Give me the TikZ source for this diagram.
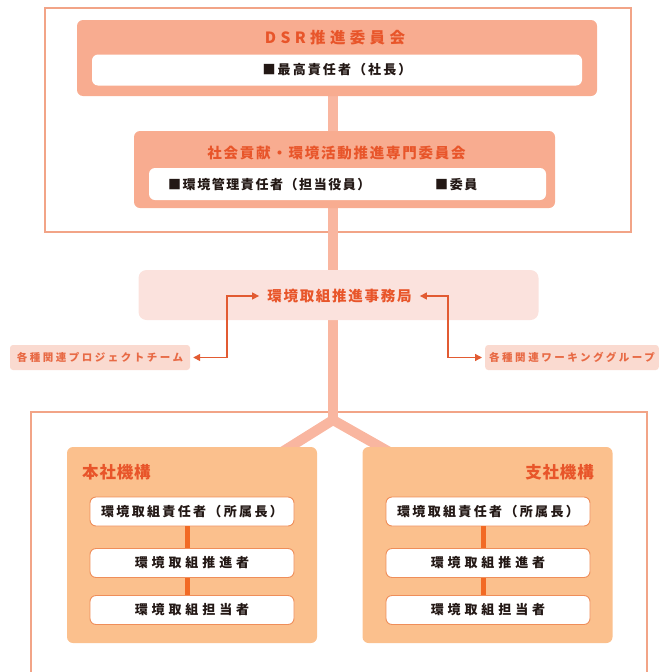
\documentclass[tikz,border=0pt]{standalone}
\usepackage{fontspec}
\newfontfamily\jp{Noto Sans CJK JP}
\usetikzlibrary{arrows.meta,calc,backgrounds}
\definecolor{frameline}{HTML}{F2A487}
\definecolor{salmon}{HTML}{F8AC90}
\definecolor{trunkc}{HTML}{F9B6A0}
\definecolor{titlec}{HTML}{E8552A}
\definecolor{officec}{HTML}{FBE2DD}
\definecolor{sidec}{HTML}{FADAD0}
\definecolor{sidetext}{HTML}{E86A45}
\definecolor{arrowc}{HTML}{E25B32}
\definecolor{unitc}{HTML}{FBC08D}
\definecolor{unitline}{HTML}{EF8E5A}
\definecolor{linkc}{HTML}{F26A24}
\definecolor{inkc}{HTML}{231815}
\begin{document}
\begin{tikzpicture}[x=1pt,y=-1pt,
    panel/.style={fill=salmon,rounded corners=6pt,inner sep=0pt},
    whitebar/.style={fill=white,rounded corners=6pt,inner sep=0pt,text=inkc,
      font={\jp\bfseries\fontsize{13}{15}\selectfont\addfontfeature{LetterSpace=16}}},
    title/.style={text=titlec,inner sep=0pt,
      font={\jp\bfseries\fontsize{14.5}{16}\selectfont\addfontfeature{LetterSpace=12}}},
    boxtext/.style={text=inkc,inner sep=0pt,
      font={\jp\bfseries\fontsize{13}{15}\selectfont\addfontfeature{LetterSpace=12}}},
    side/.style={fill=sidec,rounded corners=3pt,minimum height=25pt,inner xsep=4pt,text=sidetext,
      font={\jp\bfseries\fontsize{10.5}{12}\selectfont\addfontfeature{LetterSpace=24}}},
    unit/.style={fill=unitc,rounded corners=6pt,minimum width=250pt,minimum height=196pt},
    unittitle/.style={text=titlec,inner sep=0pt,
      font={\jp\bfseries\fontsize{16.5}{18}\selectfont\addfontfeature{LetterSpace=5}}},
    role/.style={draw=unitline,line width=0.9pt,fill=white,rounded corners=6pt,
      minimum width=204pt,minimum height=29pt,inner sep=0pt,text=inkc,
      font={\jp\bfseries\fontsize{13}{15}\selectfont}},
    trunk/.style={trunkc,line width=10pt},
    link/.style={arrowc,line width=1.3pt,
      {Triangle[length=7pt,width=7pt]}-{Triangle[length=7pt,width=7pt]},
      shorten <=3pt,shorten >=3pt}]
  \useasboundingbox (0,0) rectangle (659,672);
  \node[panel,minimum width=520pt,minimum height=76pt] (dsr) at (337,58) {};
  \node[title,font={\jp\bfseries\fontsize{15.5}{17}\selectfont\addfontfeature{LetterSpace=28}}] (dsrtitle) at (335,38) {DSR推進委員会};
  \node[whitebar,minimum width=490pt,minimum height=31pt] (ceo) at (337,70) {■最高責任者（社長）};
  \node[panel,minimum width=421pt,minimum height=77pt] (cmte) at (344.5,169.5) {};
  \node[title] (cmtetitle) at (336.5,153) {社会貢献・環境活動推進専門委員会};
  \node[whitebar,minimum width=397pt,minimum height=32pt] (cmtebar) at (347.5,184) {};
  \node[boxtext,anchor=west] (mgr) at (168,185) {■環境管理責任者（担当役員）};
  \node[boxtext,anchor=west] (member) at (435,185) {■委員};
  \node[fill=officec,rounded corners=8pt,minimum width=400pt,minimum height=50pt] (office) at (338.5,295) {};
  \node[title,inner sep=5pt] (officelbl) at (339.5,296) {環境取組推進事務局};
  \node[side,minimum width=180pt] (team) at (100,357.5) {各種関連プロジェクトチーム};
  \node[side,anchor=west] (wg) at (485,357.5) {各種関連ワーキンググループ};
  \node[unit] (hq) at (192,545) {};
  \node[unittitle,anchor=west] (hqtitle) at (82,472) {本社機構};
  \node[unit] (br) at (487.5,545) {};
  \node[unittitle,anchor=east] (brtitle) at (594,472) {支社機構};
  \foreach \u/\x in {hq/192,br/488}{
    \node[role] (\u1) at (\x,511.5) {\addfontfeature{LetterSpace=18}環境取組責任者（所属長）};
    \node[role] (\u2) at (\x,563) {\addfontfeature{LetterSpace=30}環境取組推進者};
    \node[role] (\u3) at (\x,610) {\addfontfeature{LetterSpace=30}環境取組担当者};
    \draw[linkc,line width=5pt] ($(\u1.south)+(-5,0)$) -- ($(\u2.north)+(-5,0)$);
    \draw[linkc,line width=5pt] ($(\u2.south)+(-5,0)$) -- ($(\u3.north)+(-5,0)$);
  }
  \coordinate (fork) at (333,420);
  \coordinate (lbend) at (227,0);
  \coordinate (rbend) at (448,0);
  \begin{scope}[on background layer]
    \draw[frameline,line width=1.2pt] (45,8) rectangle (631,232);
    \draw[frameline,line width=1.2pt] (31,412) rectangle (647,690);
    \draw[trunk] (fork |- dsr.south) -- (fork |- office.north);
    \draw[trunk] (fork |- office.south) -- (fork);
    \draw[trunk,shorten >=-10pt] (fork) -- ($(hq.north east)+(-27,0)$);
    \draw[trunk,shorten >=-10pt] (fork) -- ($(br.north west)+(18,0)$);
  \end{scope}
  \draw[link] (team.east) -- (team.east -| lbend) |- (officelbl.west);
  \draw[link] (officelbl.east) -- (officelbl.east -| rbend) |- (wg.west);
\end{tikzpicture}
\end{document}
